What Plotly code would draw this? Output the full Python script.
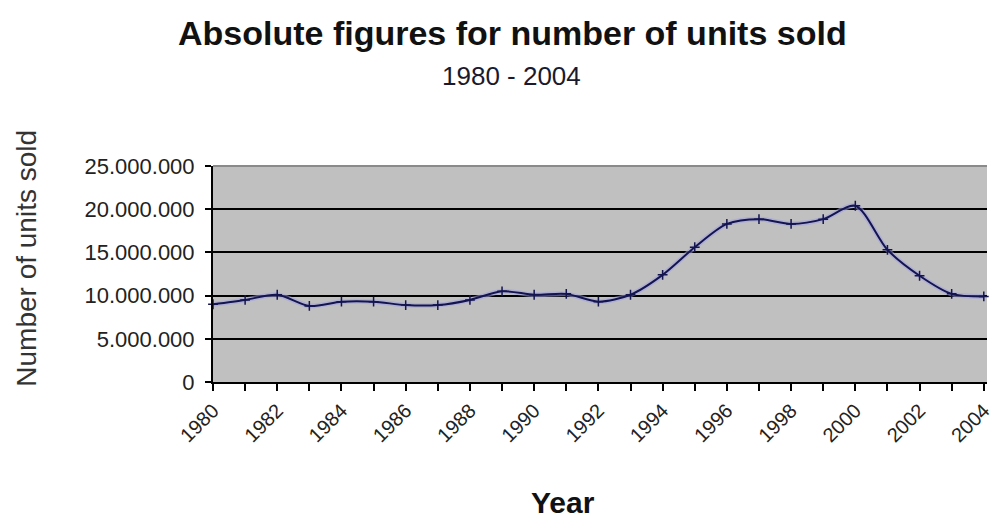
import plotly.graph_objects as go

years = list(range(1980, 2005))
units_sold = [
    9.0e6, 9.5e6, 10.1e6, 8.8e6, 9.3e6, 9.3e6, 8.9e6, 8.9e6, 9.5e6, 10.5e6,
    10.1e6, 10.2e6, 9.3e6, 10.1e6, 12.4e6, 15.6e6, 18.3e6, 18.85e6, 18.3e6, 18.85e6,
    20.4e6, 15.3e6, 12.3e6, 10.2e6, 9.9e6,
]
x_tick_labels = [str(y) for y in range(1980, 2005, 2)]
y_tick_values = [0, 5e6, 10e6, 15e6, 20e6, 25e6]

title_text = "Absolute figures for number of units sold"
subtitle_text = "1980 - 2004"
x_title = "Year"
y_title = "Number of units sold"

FONT = "Liberation Sans, Arial, sans-serif"

# plot area in pixels (layout only)
L, T, B, W, H = 213, 166, 139, 994, 521
PW, PH = W - L, H - T - B


def px(xp):
    return (xp - L) / PW


def py(yp):
    return (H - B - yp) / PH


fig = go.Figure()
# soft halo under the line (as in the original image)
fig.add_trace(go.Scatter(
    x=years, y=units_sold, mode="lines",
    line=dict(color="rgba(160,160,225,0.55)", width=5, shape="spline", smoothing=0.8),
    showlegend=False, hoverinfo="skip", cliponaxis=False,
))
fig.add_trace(go.Scatter(
    x=years, y=units_sold, mode="lines+markers",
    line=dict(color="#14144f", width=2, shape="spline", smoothing=0.8),
    marker=dict(symbol="cross-thin", size=7, line=dict(color="#14144f", width=1.5)),
    showlegend=False, hoverinfo="x+y", cliponaxis=False,
))

fig.update_layout(
    width=W, height=H,
    margin=dict(l=L, r=0, t=T, b=B),
    paper_bgcolor="white", plot_bgcolor="#c0c0c0",
    separators=",.",
    font=dict(family=FONT, color="black"),
    showlegend=False,
    annotations=[
        dict(text="<b>" + title_text + "</b>", xref="paper", yref="paper",
             x=px(515), y=py(33), xanchor="center", yanchor="middle", showarrow=False,
             font=dict(size=34, family=FONT, color="#111111")),
        dict(text=subtitle_text, xref="paper", yref="paper",
             x=px(514), y=py(76), xanchor="center", yanchor="middle", showarrow=False,
             font=dict(size=26, family=FONT, color="#1a1a2e")),
        dict(text="<b>" + x_title + "</b>", xref="paper", yref="paper",
             x=px(566), y=py(502), xanchor="center", yanchor="middle", showarrow=False,
             font=dict(size=30, family=FONT, color="#111111")),
        dict(text=y_title, xref="paper", yref="paper", textangle=-90,
             x=px(24), y=py(258), xanchor="center", yanchor="middle", showarrow=False,
             font=dict(size=28, family=FONT, color="#333333")),
    ],
)

fig.update_xaxes(
    range=[1980, 2004.1], tickmode="array",
    tickvals=[int(t) for t in x_tick_labels], ticktext=x_tick_labels,
    tickangle=-45, ticks="outside", ticklen=7, tickwidth=1.5, tickcolor="black",
    ticklabeloverflow="allow",
    minor=dict(dtick=1, tick0=1980, ticks="outside", ticklen=7, tickwidth=1.5,
               tickcolor="black", showgrid=False),
    showgrid=False, zeroline=False, showline=True, linecolor="black", linewidth=2,
    tickfont=dict(size=20, family=FONT, color="#222222"),
)

fig.update_yaxes(
    range=[0, 25e6], tickmode="array", tickvals=y_tick_values,
    tickformat=",d", ticks="outside", ticklen=6, tickwidth=1.5, tickcolor="black",
    ticklabelstandoff=6,
    showgrid=True, gridcolor="black", gridwidth=1.5,
    zeroline=False, showline=True, linecolor="black", linewidth=2,
    tickfont=dict(size=22, family=FONT, color="#222222"),
)

# light border of plot area on top (covers top gridline like the original)
fig.add_shape(type="line", xref="paper", yref="paper", x0=0, x1=1, y0=1, y1=1,
              line=dict(color="#8a8a8a", width=2), layer="above")

fig.write_html("out.html")
